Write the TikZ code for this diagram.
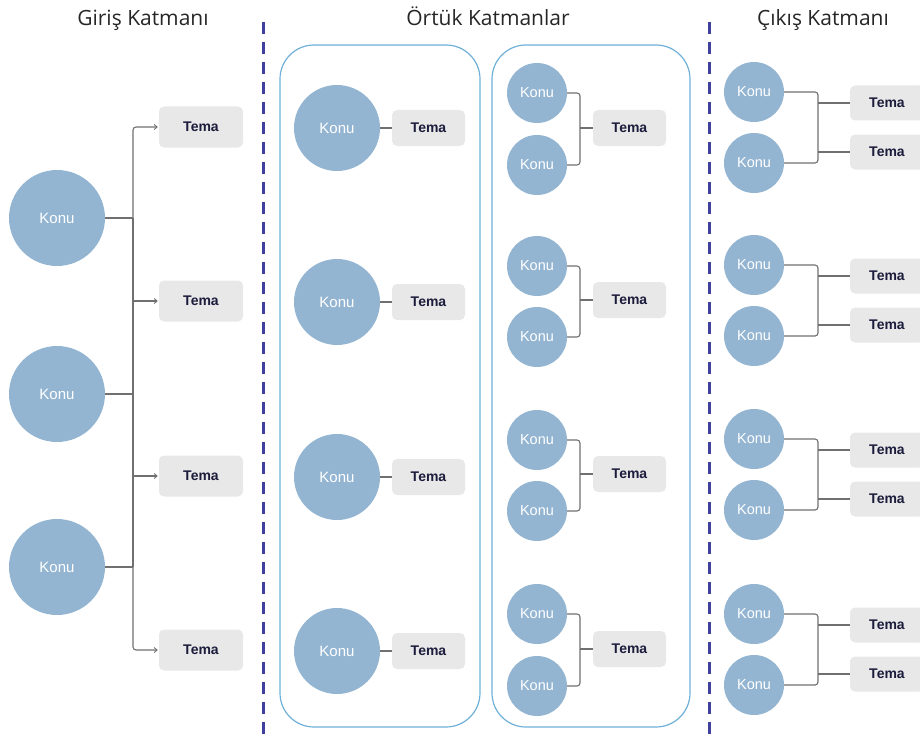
\documentclass[tikz,border=0pt]{standalone}
\usepackage{fontspec}
\setmainfont{Liberation Sans}
\newfontfamily\titlefont{Open Sans}
\usetikzlibrary{arrows.meta}
\definecolor{konu}{HTML}{93B5D2}
\definecolor{temabg}{HTML}{E8E8E8}
\definecolor{tematxt}{HTML}{1C1C3C}
\definecolor{conn}{HTML}{707070}
\definecolor{layerline}{HTML}{3F3F9C}
\definecolor{boxline}{HTML}{6FB0D8}
\definecolor{titlecol}{HTML}{262626}
\begin{document}
\begin{tikzpicture}[x=1pt,y=-1pt,
  konubase/.style={circle, fill=konu, inner sep=0pt, text=white, font=\fontsize{15}{15}\selectfont},
  konuL/.style={konubase, minimum size=96pt},
  konuM/.style={konubase, minimum size=86pt},
  konuS/.style={konubase, minimum size=60pt, font=\fontsize{14.5}{15}\selectfont},
  temabase/.style={rounded corners=5pt, fill=temabg, inner sep=0pt, text=tematxt, font=\bfseries\fontsize{14}{14}\selectfont},
  temaL/.style={temabase, minimum width=84pt, minimum height=41pt},
  temaM/.style={temabase, minimum width=73pt, minimum height=36pt},
  temaO/.style={temabase, minimum width=74pt, minimum height=35pt},
  conn/.style={draw=conn, line width=1.1pt},
  arr/.style={-{Straight Barb[length=3pt,width=5pt,line width=0.9pt]}},
  layer/.style={draw=layerline, line width=3pt, dash pattern=on 12pt off 8pt},
  panel/.style={draw=boxline, line width=1.2pt, rounded corners=34pt},
  title/.style={text=titlecol, font=\titlefont\fontsize{21}{21}\selectfont, anchor=base}
]
\useasboundingbox (0,0) rectangle (920,741);
\clip (0,0) rectangle (920,741);

% titles
\node[title] (h1) at (143,26) {Giriş Katmanı};
\node[title] (h2) at (488,26) {Örtük Katmanlar};
\node[title] (h3) at (823,26) {Çıkış Katmanı};

% layer separators
\coordinate (s1t) at (263,22); \coordinate (s1b) at (263,745);
\coordinate (s2t) at (709,22); \coordinate (s2b) at (709,745);
\draw[layer] (s1t) -- (s1b);
\draw[layer] (s2t) -- (s2b);

% panels
\draw[panel] (280,45) rectangle (480,727);
\draw[panel] (492,45) rectangle (690,727);

% ---------- input layer ----------
\node[konuL] (i1) at (57,218) {Konu};
\node[konuL] (i2) at (57,394) {Konu};
\node[konuL] (i3) at (57,567) {Konu};
\node[temaL] (t1) at (201,127) {Tema};
\node[temaL] (t2) at (201,301) {Tema};
\node[temaL] (t3) at (201,476) {Tema};
\node[temaL] (t4) at (201,650) {Tema};
\coordinate (bus) at (133,0);
\draw[conn] (i1.east) -- (bus |- i1);
\draw[conn] (i2.east) -- (bus |- i2);
\draw[conn] (i3.east) -- (bus |- i3);
\draw[conn] (bus |- i1) -- (bus |- i3);
\draw[conn, arr, rounded corners=3pt, shorten >=1pt] (bus |- i1) |- (t1.west);
\draw[conn, arr, shorten >=1pt] (bus |- t2) -- (t2.west);
\draw[conn, arr, shorten >=1pt] (bus |- t3) -- (t3.west);
\draw[conn, arr, rounded corners=3pt, shorten >=1pt] (bus |- i3) |- (t4.west);

% ---------- hidden layer 1 ----------
\foreach \y [count=\k] in {128,302,477,651} {
  \node[konuM] (ha\k) at (337,\y) {Konu};
  \node[temaM] (hta\k) at (428.5,\y) {Tema};
  \draw[conn] (ha\k.east) -- (hta\k.west);
}

% ---------- hidden layer 2 ----------
\coordinate (hbx) at (580,0);
\foreach \ya/\yb/\yt [count=\k] in {93/165/128, 266/337/300, 440/511/474, 614/686/649} {
  \node[konuS] (hb\k a) at (537,\ya) {Konu};
  \node[konuS] (hb\k b) at (537,\yb) {Konu};
  \node[temaM] (htb\k) at (629.5,\yt) {Tema};
  \draw[conn, rounded corners=3pt] (hb\k a.east) -| (hbx |- htb\k) |- (hb\k b.east);
  \draw[conn] (hbx |- htb\k) -- (htb\k.west);
}

% ---------- output layer ----------
\coordinate (obx) at (818,0);
\foreach \ya/\yb/\ta/\tb [count=\k] in {92/163/103/152, 265/336/276/325, 439/510/450/499, 614/685/625/674} {
  \node[konuS] (o\k a) at (754,\ya) {Konu};
  \node[konuS] (o\k b) at (754,\yb) {Konu};
  \node[temaO] (ot\k a) at (887,\ta) {Tema};
  \node[temaO] (ot\k b) at (887,\tb) {Tema};
  \draw[conn, rounded corners=3pt] (o\k a.east) -| (obx |- ot\k a) -- (obx |- ot\k b) |- (o\k b.east);
  \draw[conn] (obx |- ot\k a) -- (ot\k a.west);
  \draw[conn] (obx |- ot\k b) -- (ot\k b.west);
}
\end{tikzpicture}
\end{document}
